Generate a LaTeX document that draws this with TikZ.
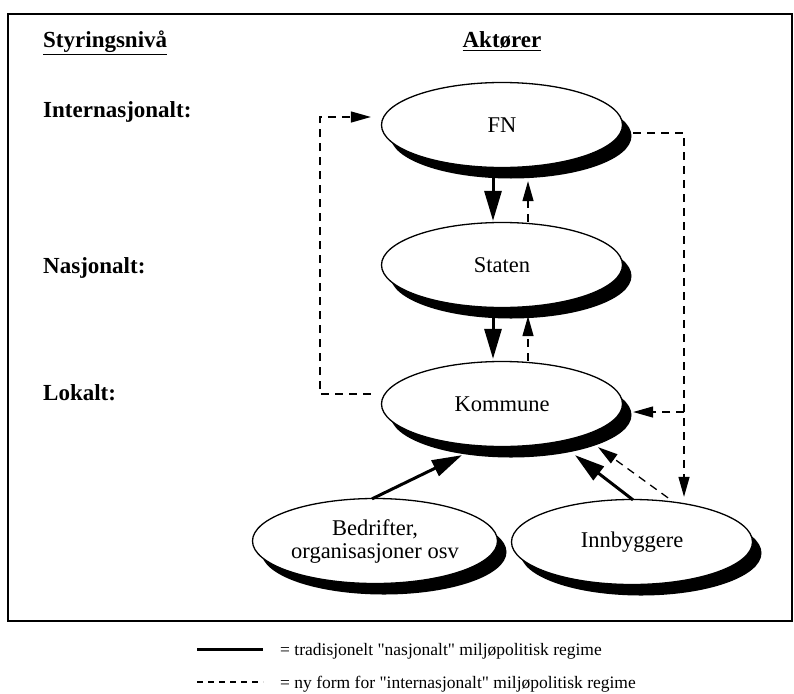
\documentclass[tikz,border=0pt]{standalone}
\usepackage{fontspec}
\setmainfont{Liberation Serif}
\usetikzlibrary{shapes.geometric,shadows,arrows.meta}
\tikzset{actor/.style={ellipse,draw,line width=1.3pt,fill=white,inner sep=0pt,
minimum width=241pt,minimum height=85pt,align=center,
font=\fontsize{22.5}{23}\selectfont,
drop shadow={shadow xshift=9pt,shadow yshift=-11pt,fill=black,opacity=1}},
level/.style={anchor=base west,inner sep=0pt,font=\fontsize{23}{25}\selectfont\bfseries},
trad/.style={line width=3pt,-{Triangle[length=30pt,width=17pt]}},
ny/.style={line width=1.3pt,dash pattern=on 8pt off 6pt,-{Triangle[length=20pt,width=11pt]}},
legend/.style={anchor=base west,inner sep=0pt,font=\fontsize{17.5}{19}\selectfont}}

\begin{document}
\begin{tikzpicture}[x=1pt,y=-1pt]
\useasboundingbox (0,0) rectangle (794,693);
\draw[line width=2pt] (8,14) rectangle (792,621);

% levels and actors headings
\node[level] (hlevel) at (43,48) {\underline{Styringsnivå}};
\node[level,anchor=base] (hactor) at (502,48) {\underline{Aktører}};
\node[level] (intl) at (43,117) {Internasjonalt:};
\node[level] (nat) at (43,273) {Nasjonalt:};
\node[level] (loc) at (43,400) {Lokalt:};

\node[actor] (FN) at (502,125) {FN};
\node[actor] (Staten) at (502,265) {Staten};
\node[actor] (Kommune) at (502,404) {Kommune};
\node[actor,minimum width=245pt] (Bedrifter) at (375,541) {Bedrifter,\\organisasjoner osv};
\node[actor] (Innbyggere) at (632,542) {Innbyggere};

% traditional
\draw[trad] ([xshift=-9pt]FN.south) -- ([xshift=-9pt,yshift=1pt]Staten.north);
\draw[trad] ([xshift=-9pt]Staten.south) -- ([xshift=-9pt,yshift=2pt]Kommune.north);
\draw[trad] ([xshift=-3pt,yshift=-1pt]Bedrifter.north) -- ([xshift=-40pt,yshift=-8pt]Kommune.south);
\draw[trad] ([xshift=1pt,yshift=-1pt]Innbyggere.north) -- ([xshift=73pt,yshift=-8pt]Kommune.south);

% new form
\draw[ny] ([xshift=26pt]Staten.north) -- ([xshift=26pt,yshift=-13pt]FN.south);
\draw[ny] ([xshift=26pt]Kommune.north) -- ([xshift=26pt,yshift=-8pt]Staten.south);
\draw[ny] ([xshift=36pt,yshift=1pt]Innbyggere.north) -- ([xshift=96pt]Kommune.south);
\draw[ny] ([xshift=-10pt,yshift=10pt]Kommune.west) -- ++(-51,0) |- ([xshift=-10pt,yshift=8pt]FN.west);
\draw[ny] ([xshift=10pt,yshift=-8pt]FN.east) -| ([xshift=52pt,yshift=2pt]Innbyggere.north);
\coordinate (branch) at (684,412);
\draw[ny] (branch) -- ([xshift=10pt,yshift=-8pt]Kommune.east);

% legend
\coordinate (l1) at (197,649);
\coordinate (l2) at (197,682);
\draw[line width=3pt] (l1) -- ++(66,0) coordinate (l1e);
\draw[line width=1.3pt,dash pattern=on 6pt off 5pt] (l2) -- ++(66,0) coordinate (l2e);
\node[legend] (t1) at (280,655) {= tradisjonelt \textquotedbl nasjonalt\textquotedbl{} miljøpolitisk regime};
\node[legend] (t2) at (280,688) {= ny form for \textquotedbl internasjonalt\textquotedbl{} miljøpolitisk regime};
\end{tikzpicture}
\end{document}
